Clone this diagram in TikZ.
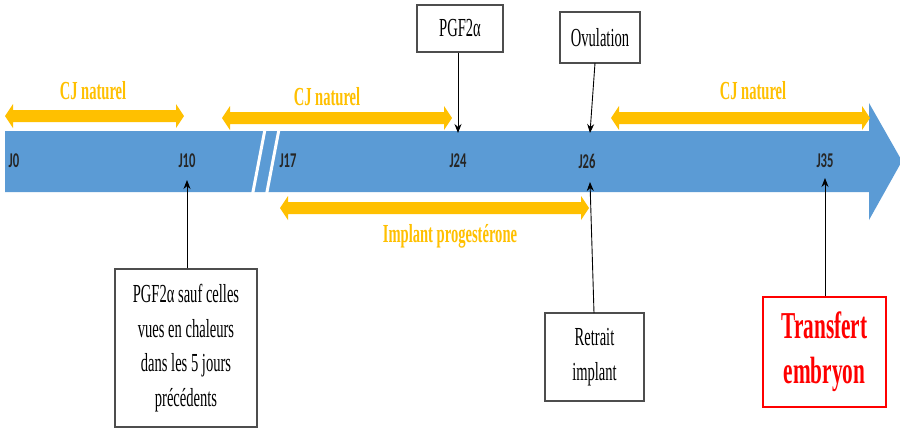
\documentclass[tikz,border=0pt]{standalone}
\usepackage{fontspec}
\setmainfont{Liberation Serif}[FakeStretch=0.56]
\newfontfamily\daylabel{Carlito}[FakeStretch=0.6]
\usetikzlibrary{arrows.meta}
\definecolor{bandblue}{HTML}{5B9BD5}
\definecolor{cjorange}{HTML}{FFC000}
\definecolor{boxgray}{HTML}{4D4D4D}
\tikzset{
  day/.style={font=\daylabel\fontsize{21}{24}\selectfont\bfseries, text=black!85, inner sep=0},
  phase/.style={font=\fontsize{26}{28}\selectfont\bfseries, text=cjorange, inner sep=0},
  event/.style={draw=boxgray, line width=1.3pt, fill=white, inner sep=0, align=center,
    font=\fontsize{26}{34.5}\selectfont},
  pointer/.style={draw=black, line width=0.9pt, -{Stealth[length=9pt,width=7pt]}},
}
% horizontal double-headed orange arrow: #1 left tip x, #2 right tip x, #3 centre y
\newcommand\phasearrow[3]{%
  \fill[cjorange] (#1,#3) -- (#1+8,#3-12) -- (#1+8,#3-6) -- (#2-8,#3-6) -- (#2-8,#3-12)
    -- (#2,#3) -- (#2-8,#3+12) -- (#2-8,#3+6) -- (#1+8,#3+6) -- (#1+8,#3+12) -- cycle;}
\begin{document}
\begin{tikzpicture}[x=1pt,y=-1pt]
\useasboundingbox (0,0) rectangle (900,429);
\fill[white] (0,0) rectangle (900,429);

% timeline band with its arrow head
\fill[bandblue] (5,131) -- (869,131) -- (869,103) -- (902,161) -- (869,220)
  -- (869,192) -- (5,192) -- cycle;
% break in the time axis
\draw[white, line width=3pt] (266,124) -- (252,197);
\draw[white, line width=3pt] (280,124) -- (266,197);

% day labels
\node[day] (j0)  at (14,161)  {J0};
\node[day] (j10) at (187,161) {J10};
\node[day] (j17) at (288,161) {J17};
\node[day] (j24) at (458,161) {J24};
\node[day] (j26) at (587,161) {J26};
\node[day] (j35) at (825,161) {J35};

% phases
\phasearrow{5}{184}{116}
\phasearrow{222}{452}{118}
\phasearrow{611}{870}{118}
\phasearrow{280}{589}{208}
\node[phase] (cj1) at (93,91)  {CJ naturel};
\node[phase] (cj2) at (327,97) {CJ naturel};
\node[phase] (cj3) at (753,91) {CJ naturel};
\node[phase] (impl) at (450,236) {Implant progestérone};

% events
\node[event, minimum width=86pt, minimum height=47pt] (pgf) at (460,28.5) {PGF2α};
\node[event, minimum width=80pt, minimum height=51pt] (ovu) at (600,37.5) {Ovulation};
\node[event, minimum width=142pt, minimum height=158pt] (pgfsauf) at (186,348)
  {PGF2α sauf celles\\vues en chaleurs\\dans les 5 jours\\précédents};
\node[event, minimum width=99pt, minimum height=88pt] (retrait) at (594.5,357)
  {Retrait\\implant};
\node[event, draw=red, text=red, font=\fontsize{38}{45}\selectfont\bfseries,
  minimum width=123pt, minimum height=110pt] (transfert) at (824.5,352)
  {Transfert\\embryon};

% pointers onto the time axis
\coordinate (p24) at (458,133);
\coordinate (p26top) at (590,133);
\coordinate (p10) at (187,180);
\coordinate (p26bot) at (590,182);
\coordinate (p35) at (825,178);
\draw[pointer] (pgf.south -| p24) -- (p24);
\draw[pointer] (595,63) -- (p26top);
\draw[pointer] (pgfsauf.north -| p10) -- (p10);
\draw[pointer] (594,313) -- (p26bot);
\draw[pointer] (transfert.north -| p35) -- (p35);
\end{tikzpicture}
\end{document}
